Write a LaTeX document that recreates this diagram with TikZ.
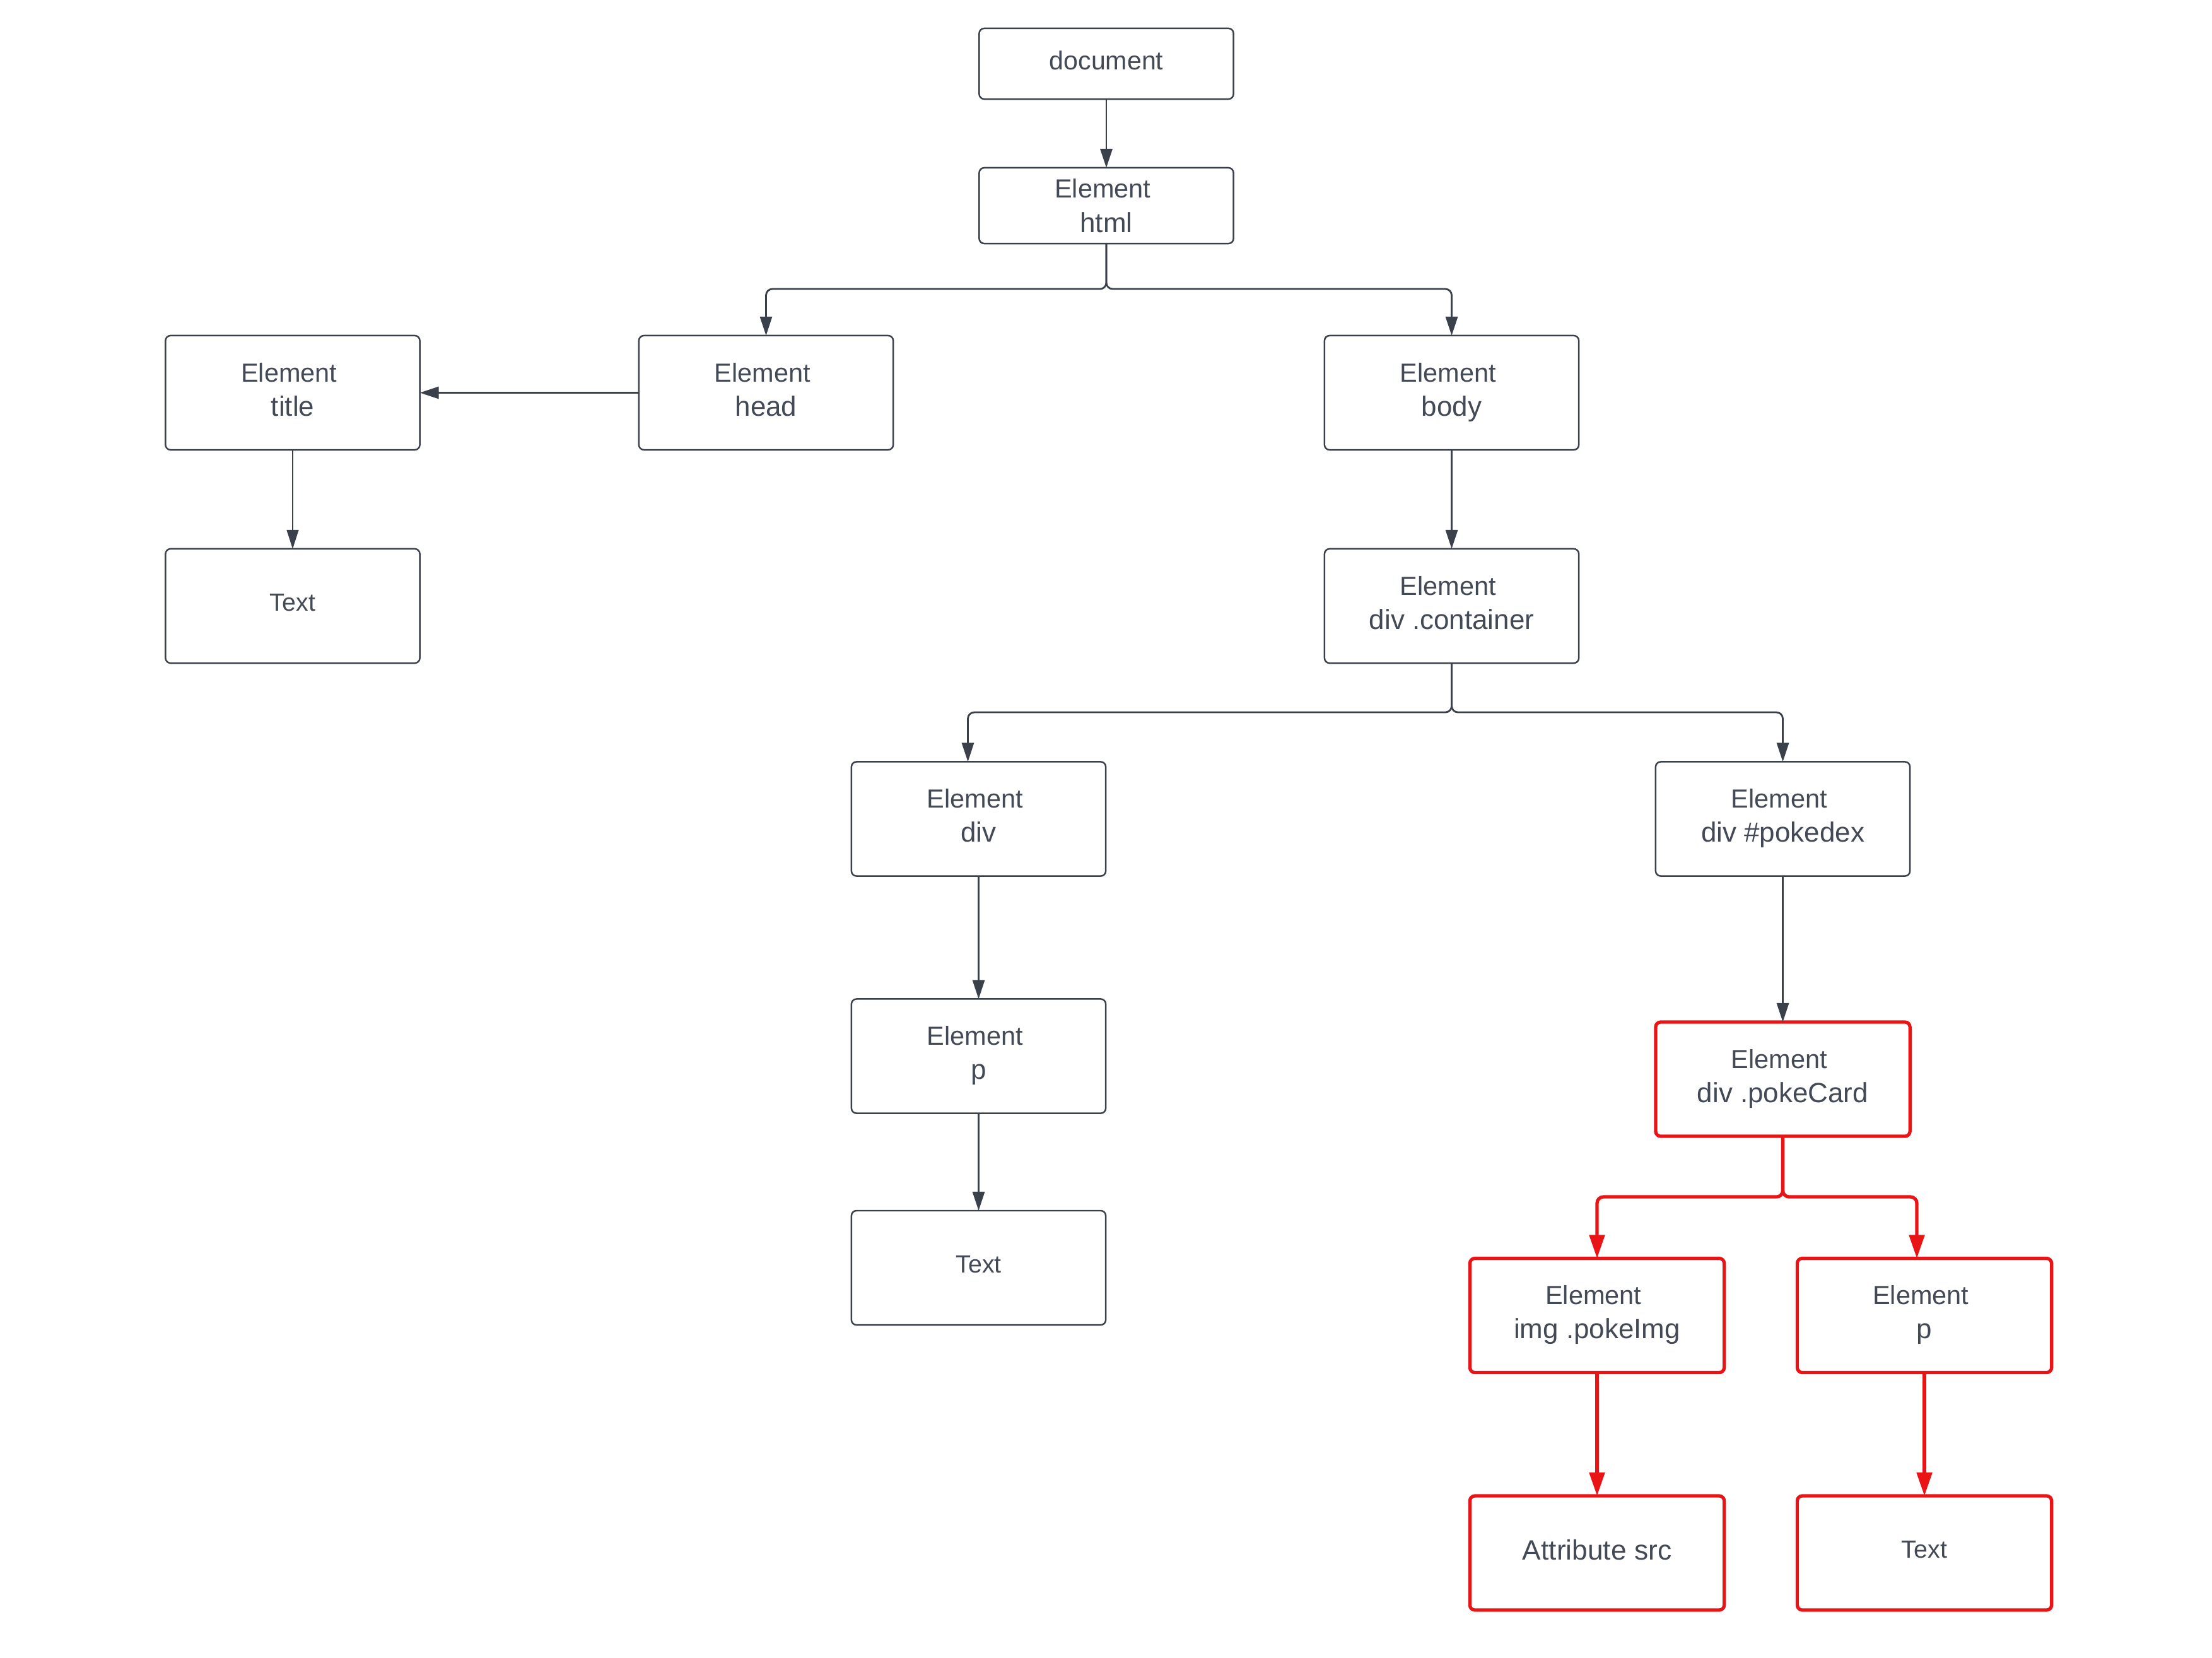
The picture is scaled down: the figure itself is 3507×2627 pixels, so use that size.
\documentclass[tikz,border=0pt]{standalone}
\usepackage{fontspec}
\setmainfont{Liberation Sans}
\usetikzlibrary{arrows.meta}
\definecolor{ink}{HTML}{3A414A}
\definecolor{txt}{HTML}{434A55}
\definecolor{lred}{HTML}{E81416}
\newcommand{\lnb}[1]{{\fontsize{12.5}{15.4}\selectfont #1}}
\newcommand{\elm}{Element\kern3.2pt}
\tikzset{
  box/.style={draw=ink, line width=0.7pt, rounded corners=0.08cm, fill=white,
    minimum width=4.03cm, minimum height=1.81cm, inner sep=0pt, outer sep=0pt,
    align=center, text=txt, text depth=3pt, font=\fontsize{11.8}{15.4}\selectfont},
  redbox/.style={box, draw=lred, line width=1.5pt},
  conn/.style={draw=ink, line width=0.8pt, rounded corners=0.1cm,
    -{Triangle[length=0.3cm,width=0.19cm]}},
  thinconn/.style={conn, line width=0.35pt},
  redconn/.style={draw=lred, line width=1.5pt, rounded corners=0.1cm,
    -{Triangle[length=0.37cm,width=0.24cm]}},
}
\begin{document}
\begin{tikzpicture}[x=0.01cm, y=-0.01cm]
\useasboundingbox (0,0) rectangle (3507,2627);

\node[box, minimum height=1.12cm, font=\fontsize{11.7}{15.4}\selectfont] (doc) at (1754,101) {document};
\node[box, minimum height=1.2cm, text depth=-2pt] (html) at (1754,326) {\elm\\\lnb{html}};
\node[box] (head) at (1214.5,622.5) {\elm\\\lnb{head}};
\node[box] (title) at (464,622.5) {\elm\\\lnb{title}};
\node[box, font=\fontsize{11.2}{15.4}\selectfont] (text1) at (464,960.5) {Text};
\node[box] (body) at (2301.5,622.5) {\elm\\\lnb{body}};
\node[box] (cont) at (2301.5,960.5) {\elm\\\lnb{div .container}};
\node[box] (div) at (1551.5,1298) {\elm\\\lnb{div}};
\node[box] (pokedex) at (2826.5,1298) {\elm\\\lnb{div \#pokedex}};
\node[box] (p1) at (1551.5,1674) {\elm\\\lnb{p}};
\node[box, font=\fontsize{11.2}{15.4}\selectfont] (text2) at (1551.5,2009.5) {Text};
\node[redbox] (card) at (2826.5,1710.5) {\elm\\\lnb{div .pokeCard}};
\node[redbox] (img) at (2532,2085) {\elm\\\lnb{img .pokeImg}};
\node[redbox] (p2) at (3051,2085) {\elm\\\lnb{p}};
\node[redbox, font=\fontsize{12.6}{15.4}\selectfont] (attr) at (2532,2461.5) {Attribute src};
\node[redbox, font=\fontsize{11.2}{15.4}\selectfont] (text3) at (3051,2461.5) {Text};

\draw[conn] (doc.south) -- (html.north);
\draw[conn] (html.south) -- ++(0,72) -| (head.north);
\draw[conn] (html.south) -- ++(0,72) -| (body.north);
\draw[conn] (head.west) -- (title.east);
\draw[thinconn] (title.south) -- (text1.north);
\draw[conn] (body.south) -- (cont.north);
\draw[conn] (cont.south) -- ++(0,78) -| ([xshift=-0.17cm]div.north);
\draw[conn] (cont.south) -- ++(0,78) -| (pokedex.north);
\draw[conn] (div.south) -- (p1.north);
\draw[conn] (p1.south) -- (text2.north);
\draw[conn] (pokedex.south) -- (card.north);
\draw[redconn] (card.south) -- ++(0,96) -| (img.north);
\draw[redconn] (card.south) -- ++(0,96) -| ([xshift=-0.12cm]p2.north);
\draw[redconn] (img.south) -- (attr.north);
\draw[redconn] (p2.south) -- (text3.north);
\end{tikzpicture}
\end{document}
